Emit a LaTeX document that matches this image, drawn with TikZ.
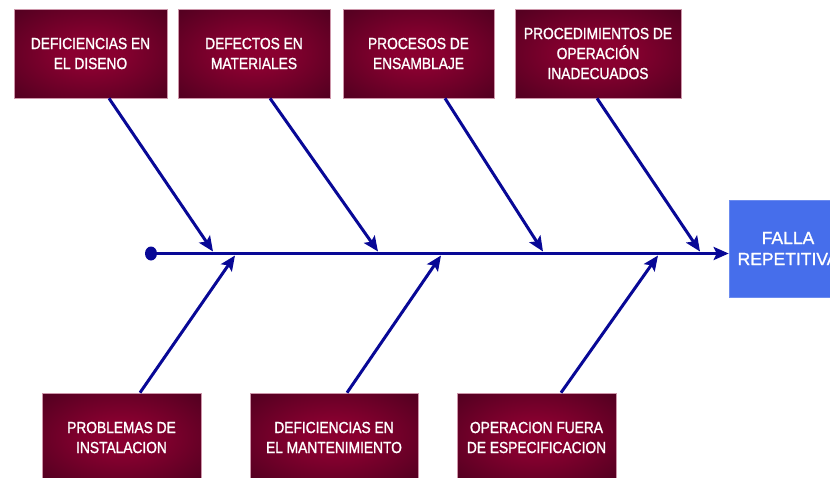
\documentclass[tikz,border=0pt]{standalone}
\usepackage{fontspec}
\setmainfont{Liberation Sans}
\newfontfamily\boxfont[FakeStretch=0.86,FakeBold=1.3]{Liberation Sans}
\newfontfamily\effectfont[FakeBold=1]{Liberation Sans}
\usetikzlibrary{arrows.meta,shadows,calc,shapes.geometric}
\definecolor{maroonin}{RGB}{138,0,48}
\definecolor{maroonout}{RGB}{68,0,28}
\definecolor{navyline}{RGB}{8,8,150}
\definecolor{fallblue}{RGB}{70,110,235}
\definecolor{boxedge}{RGB}{205,150,170}
\pgfdeclareradialshading{boxshade}{\pgfpoint{0bp}{0bp}}{color(0bp)=(maroonin); color(8bp)=(maroonin); color(42bp)=(maroonout); color(75bp)=(maroonout)}
\begin{document}
\begin{tikzpicture}[x=1pt,y=-1pt,
  cause/.style={rectangle, shading=boxshade, draw=boxedge, line width=0.6pt,
    drop shadow={shadow xshift=1.2pt,shadow yshift=-1.2pt,fill=black!45},
    text=white, font=\boxfont\fontsize{16}{20}\selectfont, align=center,
    minimum height=89pt, inner sep=0pt},
  effect/.style={rectangle, fill=fallblue, draw=fallblue!80!white, line width=0.6pt,
    drop shadow={shadow xshift=1.2pt,shadow yshift=-1.2pt,fill=black!35},
    text=white, font=\effectfont\fontsize{17.5}{21}\selectfont, align=center,
    minimum width=118pt, minimum height=97pt, inner sep=0pt},
  bone/.style={draw=navyline, line width=3pt, -{Stealth[length=15pt,width=13pt,inset=3pt]}},
]
\useasboundingbox (0,0) rectangle (830,477);
\clip (0,0) rectangle (830,477);

% cause boxes
\node[cause, minimum width=153pt] (b1) at (90.5,53.5) {DEFICIENCIAS EN\\EL DISENO};
\node[cause, minimum width=152pt] (b2) at (254,53.5) {DEFECTOS EN\\MATERIALES};
\node[cause, minimum width=151pt] (b3) at (418.5,53.5) {PROCESOS DE\\ENSAMBLAJE};
\node[cause, minimum width=166pt] (b4) at (598,53.5) {PROCEDIMIENTOS DE\\OPERACIÓN\\INADECUADOS};
\node[cause, minimum width=159pt] (b5) at (121.5,437.5) {PROBLEMAS DE\\INSTALACION};
\node[cause, minimum width=168pt] (b6) at (334,437.5) {DEFICIENCIAS EN\\EL MANTENIMIENTO};
\node[cause, minimum width=159pt] (b7) at (536.5,437.5) {OPERACION FUERA\\DE ESPECIFICACION};

% effect box
\node[effect] (eff) at (788,248.5) {FALLA\\REPETITIVA};

% spine
\node[ellipse, fill=navyline, minimum width=12pt, minimum height=14pt, inner sep=0pt] (dot) at (151,253.5) {};
\draw[bone] (dot.center) -- (eff.west |- dot);

% junction points on the spine
\coordinate (t1) at (213,251.5);
\coordinate (t2) at (378,251.5);
\coordinate (t3) at (543,251.5);
\coordinate (t4) at (700,251.5);
\coordinate (u1) at (235,255.5);
\coordinate (u2) at (441,255.5);
\coordinate (u3) at (658,255.5);

% bones
\draw[bone] ([xshift=18.5pt]b1.south) -- (t1);
\draw[bone] ([xshift=16pt]b2.south) -- (t2);
\draw[bone] ([xshift=26.5pt]b3.south) -- (t3);
\draw[bone] ([xshift=-1pt]b4.south) -- (t4);
\draw[bone] ([xshift=18.5pt]b5.north) -- (u1);
\draw[bone] ([xshift=13pt]b6.north) -- (u2);
\draw[bone] ([xshift=24.5pt]b7.north) -- (u3);
\end{tikzpicture}
\end{document}
